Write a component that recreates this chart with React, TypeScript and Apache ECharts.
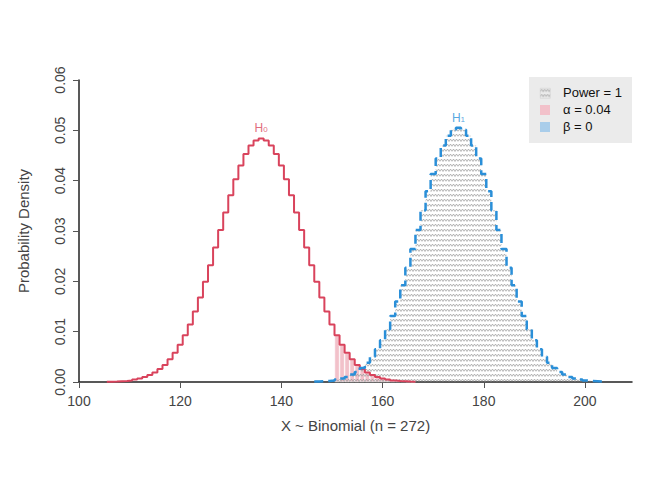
import * as echarts from 'echarts';
import React, { useEffect, useRef } from 'react';

// H0 ~ Binomial(272, 0.5): x = 106..166
const h0Start = 106;
const h0Values = [
  0.00006, 0.0001, 0.00015, 0.0002, 0.0003, 0.0005, 0.0007, 0.001, 0.0014, 0.0019,
  0.0026, 0.0034, 0.0045, 0.0058, 0.0074, 0.0093, 0.0114, 0.014, 0.0168, 0.0199,
  0.0232, 0.0267, 0.0302, 0.0337, 0.0371, 0.0403, 0.043, 0.0453, 0.047, 0.048,
  0.0484, 0.048, 0.047, 0.0453, 0.043, 0.0403, 0.0371, 0.0337, 0.0302, 0.0267,
  0.0232, 0.0199, 0.0168, 0.014, 0.0114, 0.0093, 0.0074, 0.0058, 0.0045, 0.0034,
  0.0026, 0.0019, 0.0014, 0.001, 0.0007, 0.0005, 0.0003, 0.0002, 0.00015, 0.0001,
  0.00006,
];
// H1 ~ Binomial(272, 0.643): x = 147..203
const h1Start = 147;
const h1Values = [
  0.0001, 0.00015, 0.0002, 0.0003, 0.0005, 0.0007, 0.001, 0.0015, 0.002, 0.0028,
  0.0038, 0.005, 0.0065, 0.0083, 0.0105, 0.0131, 0.016, 0.0192, 0.0227, 0.0264,
  0.0302, 0.0341, 0.0379, 0.0413, 0.0444, 0.047, 0.0489, 0.0501, 0.0505, 0.0501,
  0.0489, 0.047, 0.0444, 0.0413, 0.0379, 0.0341, 0.0302, 0.0264, 0.0227, 0.0192,
  0.016, 0.0131, 0.0105, 0.0083, 0.0065, 0.005, 0.0038, 0.0028, 0.002, 0.0015,
  0.001, 0.0007, 0.0005, 0.0003, 0.0002, 0.00015, 0.0001,
];
const critical = 151;
const xTicks = [100, 120, 140, 160, 180, 200];
const legendItems = ['Power = 1', 'α = 0.04', 'β = 0'];

const RED = '#d9435c';
const BLUE = '#2a8fd8';

const steps = (start: number, vals: number[], from = -Infinity) => {
  const out: number[][] = [];
  vals.forEach((v, i) => {
    const x = start + i;
    if (x < from) return;
    out.push([x - 0.5, v], [x + 0.5, v]);
  });
  return out;
};

const hatch = () => {
  const c = document.createElement('canvas');
  c.width = 6;
  c.height = 5;
  const g = c.getContext('2d')!;
  g.strokeStyle = '#999';
  g.lineWidth = 0.7;
  g.beginPath();
  g.moveTo(0, 3.5);
  g.lineTo(1.5, 1);
  g.lineTo(3, 3.5);
  g.lineTo(4.5, 1);
  g.lineTo(6, 3.5);
  g.stroke();
  return c;
};

const App: React.FC = () => {
  const ref = useRef<HTMLDivElement>(null);

  useEffect(() => {
    if (!ref.current) return;
    const chart = echarts.init(ref.current, null, { renderer: 'svg' });
    const alphaBars = h0Values
      .map((v, i) => [h0Start + i, v])
      .filter((d) => d[0] >= critical);

    const option: echarts.EChartsOption = {
      animation: false,
      textStyle: { fontFamily: 'Liberation Sans, Arial, sans-serif' },
      grid: { left: 70, right: 32, top: 72, bottom: 90 },
      xAxis: {
        type: 'value',
        min: 100,
        max: 209.3,
        interval: 20,
        name: 'X ~ Binomial (n = 272)',
        nameLocation: 'middle',
        nameGap: 36,
        nameTextStyle: { fontSize: 15, color: '#444' },
        axisLine: { lineStyle: { color: '#222', width: 1.5 } },
        axisTick: { length: 6, lineStyle: { color: '#555' } },
        axisLabel: {
          fontSize: 14,
          color: '#444',
          margin: 12,
          showMaxLabel: false,
          formatter: (v: number) => (xTicks.includes(v) ? String(v) : ''),
        },
        splitLine: { show: false },
      },
      yAxis: {
        type: 'value',
        min: 0,
        max: 0.06,
        interval: 0.01,
        name: 'Probability Density',
        nameLocation: 'middle',
        nameGap: 48,
        nameTextStyle: { fontSize: 15, color: '#444' },
        axisLine: { show: true, lineStyle: { color: '#222', width: 1.5 } },
        axisTick: { show: true, length: 6, lineStyle: { color: '#555' } },
        axisLabel: {
          fontSize: 14,
          color: '#444',
          rotate: 90,
          margin: 12,
          formatter: (v: number) => v.toFixed(2),
        },
        splitLine: { show: false },
      },
      series: [
        {
          type: 'bar',
          data: alphaBars,
          barWidth: 5.1,
          itemStyle: { color: '#f2c1ca', borderColor: '#ffffff', borderWidth: 0.6 },
          silent: true,
          z: 1,
        },
        {
          type: 'line',
          data: steps(h1Start, h1Values, critical),
          symbol: 'none',
          lineStyle: { width: 0 },
          areaStyle: { color: { image: hatch(), repeat: 'repeat' } as any, opacity: 1 },
          z: 2,
        },
        {
          type: 'line',
          data: steps(h0Start, h0Values),
          symbol: 'none',
          lineStyle: { color: RED, width: 2 },
          z: 3,
        },
        {
          type: 'line',
          data: steps(h1Start, h1Values),
          symbol: 'none',
          lineStyle: { color: BLUE, width: 2.5, type: [9, 5] },
          z: 4,
        },
        {
          type: 'scatter',
          symbolSize: 0,
          data: [
            { value: [136, 0.0505], label: { formatter: '{m|H}{s|0}', rich: { m: { color: RED, fontSize: 12 }, s: { color: RED, fontSize: 8, padding: [4, 0, 0, 0] } } } },
            { value: [175, 0.0525], label: { formatter: '{m|H}{s|1}', rich: { m: { color: BLUE, fontSize: 12 }, s: { color: BLUE, fontSize: 8, padding: [4, 0, 0, 0] } } } },
          ],
          label: { show: true, position: 'inside' },
          z: 5,
        },
      ],
      graphic: [
        { type: 'rect', left: 521, top: 69, shape: { width: 103, height: 66 }, style: { fill: '#ebebeb' } },
        { type: 'rect', left: 532, top: 80, shape: { width: 10, height: 10 }, style: { fill: { image: hatch(), repeat: 'repeat' } as any, stroke: '#ccc', lineWidth: 0.5 } },
        { type: 'rect', left: 532, top: 97, shape: { width: 10, height: 10 }, style: { fill: '#f2c1ca' } },
        { type: 'rect', left: 532, top: 114, shape: { width: 10, height: 10 }, style: { fill: '#a9cdea' } },
        ...legendItems.map((t, i) => ({
          type: 'text' as const,
          left: 555,
          top: 78 + i * 17,
          style: { text: t, fontSize: 13, fill: '#111', fontFamily: 'Liberation Sans, Arial, sans-serif' },
        })),
      ],
    };

    chart.setOption(option);
    return () => chart.dispose();
  }, []);

  return <div ref={ref} style={{ width: 656, height: 464 }} />;
};

export default App;
